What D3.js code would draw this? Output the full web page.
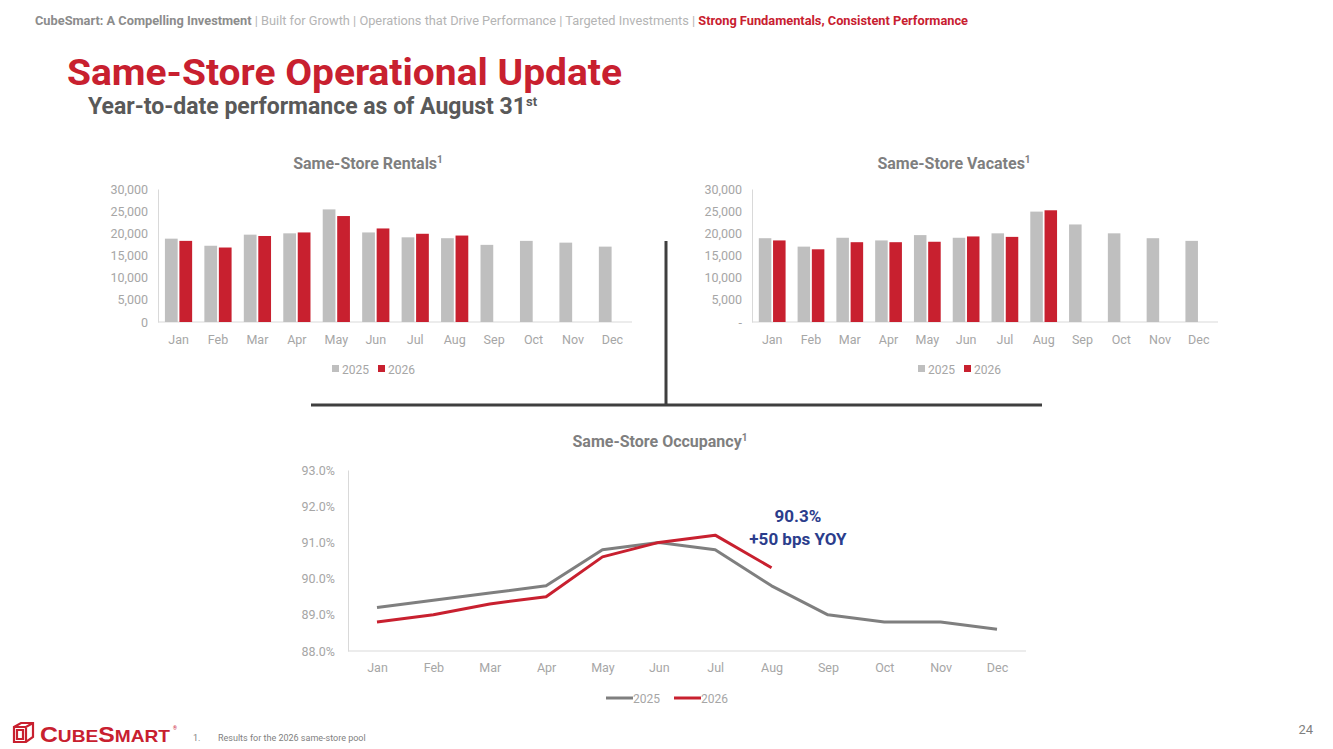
<!DOCTYPE html>
<html>
<head>
<meta charset="utf-8">
<script src="https://cdn.jsdelivr.net/npm/d3@7"></script>
<style>
  body { margin: 0; background: #fff; }
  svg { display: block; font-family: Roboto, 'Open Sans', sans-serif; }
</style>
</head>
<body>
<svg id="slide" width="1333" height="749"></svg>
<script>
const months = ['Jan', 'Feb', 'Mar', 'Apr', 'May', 'Jun', 'Jul', 'Aug', 'Sep', 'Oct', 'Nov', 'Dec']
const years = ['2025', '2026']

// same-store rentals
const rentals2025 = [18800, 17200, 19700, 20000, 25400, 20200, 19100, 18900, 17400, 18300, 17900, 17000]
const rentals2026 = [18300, 16800, 19400, 20200, 23900, 21100, 19900, 19500]

// same-store vacates
const vacates2025 = [18900, 17000, 19000, 18400, 19600, 19000, 20000, 24900, 22000, 20000, 18900, 18300]
const vacates2026 = [18400, 16400, 18000, 18000, 18100, 19300, 19200, 25200]

// same-store occupancy (%)
const occupancy2025 = [89.2, 89.4, 89.6, 89.8, 90.8, 91.0, 90.8, 89.8, 89.0, 88.8, 88.8, 88.6]
const occupancy2026 = [88.8, 89.0, 89.3, 89.5, 90.6, 91.0, 91.2, 90.3]

const barTicks = [0, 5000, 10000, 15000, 20000, 25000, 30000]
const occTicks = [88, 89, 90, 91, 92, 93]

const navItems = [
  { t: 'CubeSmart: A Compelling Investment', c: '#8c8c8c', w: 700 },
  { t: ' | Built for Growth | Operations that Drive Performance | Targeted Investments | ', c: '#b4b4b4', w: 400 },
  { t: 'Strong Fundamentals, Consistent Performance', c: '#c8202f', w: 700 },
]

const RED = '#c8202f'
const GREY_BAR = '#bfbfbf'
const AXIS = '#d9d9d9'
const TICK = '#a6a6a6'

const svg = d3.select('#slide')

// header nav
const nav = svg.append('text')
  .attr('x', 35).attr('y', 25)
  .attr('font-size', 12.5)
  .attr('textLength', 933)
  .attr('lengthAdjust', 'spacingAndGlyphs')
navItems.forEach((d) => {
  nav.append('tspan').attr('fill', d.c).attr('font-weight', d.w).text(d.t)
})

svg.append('text')
  .attr('x', 67).attr('y', 85)
  .attr('font-size', 36).attr('font-weight', 700)
  .attr('fill', RED)
  .attr('textLength', 555).attr('lengthAdjust', 'spacingAndGlyphs')
  .text('Same-Store Operational Update')

const sub = svg.append('text')
  .attr('x', 88).attr('y', 114)
  .attr('font-size', 23).attr('font-weight', 700)
  .attr('fill', '#595959')
sub.append('tspan').text('Year-to-date performance as of August 31')
sub.append('tspan').attr('font-size', 13).attr('dy', -8).text('st')

// bar chart helper
const barChart = (opts) => {
  const { title, titleX, s25, s26, xRange, yAxisX, zeroLabel, legendX } = opts
  const x0 = d3.scaleBand().domain(months).range(xRange).paddingInner(0.31).paddingOuter(0.15)
  const x1 = d3.scaleBand().domain(years).range([0, x0.bandwidth()]).paddingInner(0.12)
  const y = d3.scaleLinear().domain([0, 30000]).range([322, 189])
  const g = svg.append('g')

  const t = g.append('text')
    .attr('x', titleX).attr('y', 169)
    .attr('text-anchor', 'middle')
    .attr('font-size', 16).attr('font-weight', 700).attr('fill', '#7f7f7f')
  t.append('tspan').text(title)
  t.append('tspan').attr('font-size', 10).attr('dy', -6).text('1')

  const yAxis = g.append('g')
    .attr('transform', `translate(${yAxisX},0)`)
    .call(d3.axisLeft(y).tickValues(barTicks).tickSize(0).tickPadding(10)
      .tickFormat((d) => (d === 0 ? zeroLabel : d3.format(',')(d))))
  yAxis.select('.domain').attr('stroke', AXIS)
  yAxis.selectAll('text').attr('fill', TICK).attr('font-size', 12.5).attr('font-family', 'Roboto')

  const xAxis = g.append('g')
    .attr('transform', 'translate(0,322)')
    .call(d3.axisBottom(x0).tickSize(0).tickPadding(13).tickSizeOuter(0))
  xAxis.select('.domain').attr('stroke', AXIS).attr('d', `M${yAxisX},0H${xRange[1]}`)
  xAxis.selectAll('text').attr('fill', TICK).attr('font-size', 12.5).attr('font-family', 'Roboto')

  const series = [
    { key: '2025', vals: s25, color: GREY_BAR },
    { key: '2026', vals: s26, color: RED },
  ]
  series.forEach((s) => {
    g.append('g').selectAll('rect')
      .data(s.vals)
      .join('rect')
      .attr('x', (d, i) => x0(months[i]) + x1(s.key))
      .attr('width', x1.bandwidth())
      .attr('y', (d) => y(d))
      .attr('height', (d) => y(0) - y(d))
      .attr('fill', s.color)
  })

  // legend
  const lg = g.append('g').attr('transform', `translate(${legendX},369)`)
  series.forEach((s, i) => {
    const item = lg.append('g').attr('transform', `translate(${i * 46},0)`)
    item.append('rect').attr('x', 0).attr('y', -4).attr('width', 7).attr('height', 7).attr('fill', s.color)
    item.append('text').attr('x', 10).attr('y', 4.5)
      .attr('font-size', 12).attr('fill', TICK).text(s.key)
  })
}

barChart({
  title: 'Same-Store Rentals', titleX: 368,
  s25: rentals2025, s26: rentals2026,
  xRange: [159, 632], yAxisX: 158, zeroLabel: '0', legendX: 332,
})
barChart({
  title: 'Same-Store Vacates', titleX: 954,
  s25: vacates2025, s26: vacates2026,
  xRange: [753, 1218], yAxisX: 752, zeroLabel: '-', legendX: 918,
})

// divider lines
svg.append('line').attr('x1', 666).attr('x2', 666).attr('y1', 241).attr('y2', 405)
  .attr('stroke', '#3f3f3f').attr('stroke-width', 3)
svg.append('line').attr('x1', 311).attr('x2', 1042).attr('y1', 405).attr('y2', 405)
  .attr('stroke', '#3f3f3f').attr('stroke-width', 3)

// occupancy line chart
const xo = d3.scalePoint().domain(months).range([377, 997])
const yo = d3.scaleLinear().domain([88, 93]).range([651, 470])
const og = svg.append('g')

const ot = og.append('text')
  .attr('x', 660).attr('y', 447)
  .attr('text-anchor', 'middle')
  .attr('font-size', 16).attr('font-weight', 700).attr('fill', '#7f7f7f')
ot.append('tspan').text('Same-Store Occupancy')
ot.append('tspan').attr('font-size', 10).attr('dy', -6).text('1')

const oy = og.append('g')
  .attr('transform', 'translate(348,0)')
  .call(d3.axisLeft(yo).tickValues(occTicks).tickSize(0).tickPadding(13)
    .tickFormat((d) => d3.format('.1f')(d) + '%'))
oy.select('.domain').attr('stroke', AXIS)
oy.selectAll('text').attr('fill', TICK).attr('font-size', 12.5).attr('font-family', 'Roboto')

const ox = og.append('g')
  .attr('transform', 'translate(0,651)')
  .call(d3.axisBottom(xo).tickSize(0).tickPadding(12))
ox.select('.domain').attr('stroke', AXIS).attr('d', 'M348,0H1026')
ox.selectAll('text').attr('fill', TICK).attr('font-size', 12.5).attr('font-family', 'Roboto')

const line = d3.line().x((d, i) => xo(months[i])).y((d) => yo(d))
og.append('path').datum(occupancy2025).attr('d', line)
  .attr('fill', 'none').attr('stroke', '#7f7f7f').attr('stroke-width', 3).attr('stroke-linejoin', 'round')
og.append('path').datum(occupancy2026).attr('d', line)
  .attr('fill', 'none').attr('stroke', RED).attr('stroke-width', 3).attr('stroke-linejoin', 'round')

// annotation
const lastIdx = occupancy2026.length - 1
const ann = og.append('text')
  .attr('text-anchor', 'middle').attr('font-size', 17).attr('font-weight', 700).attr('fill', '#2b3d8c')
ann.append('tspan').attr('x', 798).attr('y', 522).text(d3.format('.1f')(occupancy2026[lastIdx]) + '%')
ann.append('tspan').attr('x', 798).attr('y', 545).text('+50 bps YOY')

// occupancy legend
const ol = og.append('g').attr('transform', 'translate(606,698)')
;[{ key: '2025', color: '#7f7f7f' }, { key: '2026', color: RED }].forEach((s, i) => {
  const item = ol.append('g').attr('transform', `translate(${i * 68},0)`)
  item.append('line').attr('x1', 0).attr('x2', 27).attr('y1', 0).attr('y2', 0)
    .attr('stroke', s.color).attr('stroke-width', 3)
  item.append('text').attr('x', 27).attr('y', 4.5).attr('font-size', 12).attr('fill', TICK).text(s.key)
})

// logo
const logo = svg.append('g').attr('transform', 'translate(12,723)')
logo.append('path')
  .attr('d', 'M2,4 L9,0 L21,0 L21,14 L14,19 L2,19 Z M2,4 L14,4 L21,0 M14,4 L14,19 M5,7 L11,7 L11,16 L5,16 Z')
  .attr('fill', 'none').attr('stroke', RED).attr('stroke-width', 2.2)
const logoText = logo.append('text').attr('x', 28).attr('y', 19)
  .attr('font-family', "'Liberation Sans', Arial, sans-serif")
  .attr('font-weight', 700).attr('fill', RED)
  .attr('textLength', 130).attr('lengthAdjust', 'spacingAndGlyphs')
;[['C', 22], ['UBE', 17], ['S', 22], ['MART', 17]].forEach(([s, fs]) => {
  logoText.append('tspan').attr('font-size', fs).text(s)
})
logo.append('text').attr('x', 161).attr('y', 7).attr('font-size', 5).attr('fill', RED).text('®')

const foot = svg.append('text').attr('y', 741).attr('font-size', 9).attr('fill', '#7f7f7f')
foot.append('tspan').attr('x', 193).text('1.')
foot.append('tspan').attr('x', 218).text('Results for the 2026 same-store pool')

svg.append('text').attr('x', 1313).attr('y', 734).attr('text-anchor', 'end')
  .attr('font-size', 13).attr('fill', '#7f7f7f').text('24')
</script>
</body>
</html>
